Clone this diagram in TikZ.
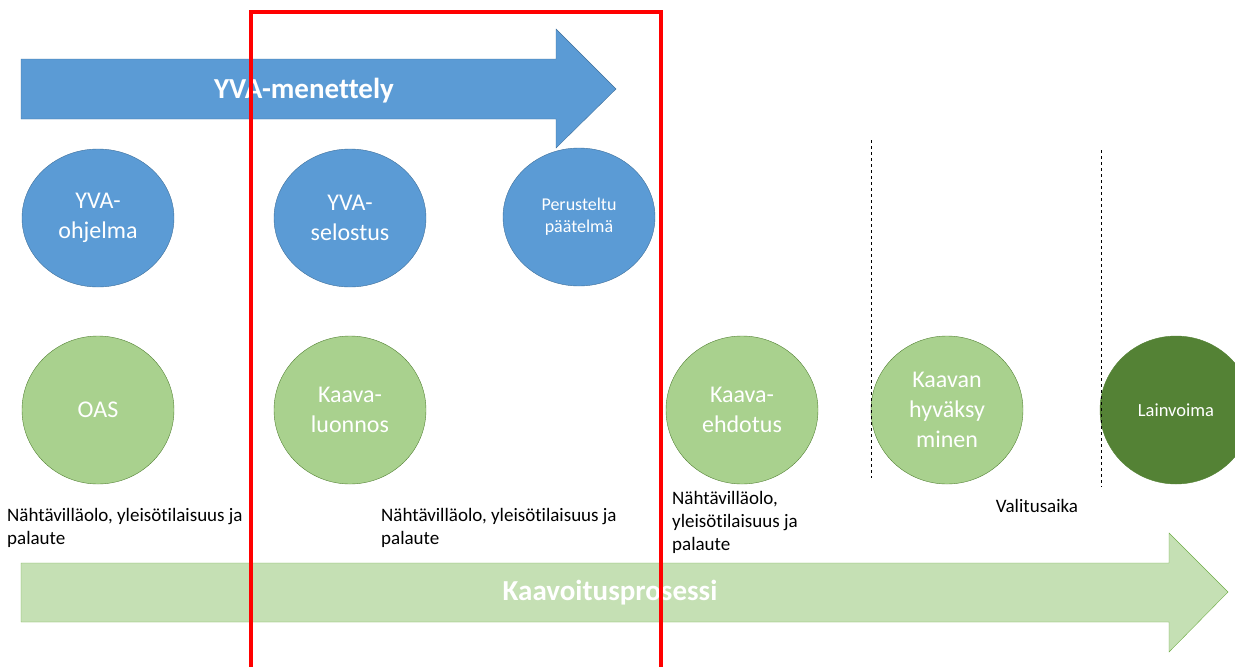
\documentclass[tikz,border=0pt]{standalone}
\usepackage{fontspec}
\setmainfont[Ligatures=CommonOff]{Carlito}
\usetikzlibrary{shapes.geometric}

\definecolor{yvablue}{HTML}{5B9BD5}
\definecolor{yvaedge}{HTML}{41719C}
\definecolor{kaavalight}{HTML}{A9D18E}
\definecolor{kaavaedge}{HTML}{548235}
\definecolor{kaavadark}{HTML}{548235}
\definecolor{arrowgreen}{HTML}{C5E0B4}
\definecolor{arrowedge}{HTML}{70AD47}

\tikzstyle{yva}=[ellipse, draw=yvaedge, fill=yvablue, text=white, minimum width=152, minimum height=138, inner sep=0, align=center, font=\fontsize{24}{30}\selectfont]
\tikzstyle{kaava}=[ellipse, draw=kaavaedge, fill=kaavalight, text=white, minimum width=152, minimum height=148, inner sep=0, align=center, font=\fontsize{24}{30}\selectfont]
\tikzstyle{note}=[anchor=north west, inner sep=0, align=left, font=\fontsize{19}{23}\selectfont]
\tikzstyle{banner}=[text=white, font=\bfseries\fontsize{29}{34}\selectfont]

\begin{document}
\begin{tikzpicture}[x=1pt, y=-1pt]
            \useasboundingbox (0,0) rectangle (1235,667);
            % YVA arrow
            \draw[yvaedge, fill=yvablue] (21,59) -- (556,59) -- (556,29) -- (616,89) -- (556,148) -- (556,119) -- (21,119) -- cycle;
            \node[banner] at (304,91) (yvaarrow) {YVA-menettely};
            % planning arrow
            \draw[arrowedge, fill=arrowgreen] (21,563) -- (1169,563) -- (1169,533) -- (1228,592) -- (1169,652) -- (1169,622) -- (21,622) -- cycle;
            \node[banner] at (610,593) (kaavaarrow) {Kaavoitusprosessi};
            % YVA stages
            \node[yva] at (98,218) (ohjelma) {YVA-\\ohjelma};
            \node[yva] at (350,218) (selostus) {YVA-\\selostus};
            \node[yva, font=\fontsize{18}{22}\selectfont] at (579,217) (paatelma) {Perusteltu\\päätelmä};
            % planning stages
            \node[kaava] at (98,410) (oas) {OAS};
            \node[kaava] at (350,410) (luonnos) {Kaava-\\luonnos};
            \node[kaava] at (742,410) (ehdotus) {Kaava-\\ehdotus};
            \node[kaava] at (947,410) (hyvaksyminen) {Kaavan\\hyväksy\\minen};
            \node[kaava, fill=kaavadark, font=\fontsize{18.5}{22}\selectfont] at (1176,410) (lainvoima) {Lainvoima};
            % separators
            \draw[dashed, thick] (871,140) -- (871,478);
            \draw[dashed, thick] (1101,150) -- (1101,487);
            % notes
            \node[note] at (7,508) (note1) {Nähtävilläolo, yleisötilaisuus ja\\palaute};
            \node[note] at (381,508) (note2) {Nähtävilläolo, yleisötilaisuus ja\\palaute};
            \node[note] at (672,491) (note3) {Nähtävilläolo,\\yleisötilaisuus ja\\palaute};
            \node[font=\fontsize{19}{23}\selectfont] at (1037,506) (valitus) {Valitusaika};
            % highlight
            \draw[red, line width=4] (251,12) rectangle (661,690);
        \end{tikzpicture}
\end{document}
